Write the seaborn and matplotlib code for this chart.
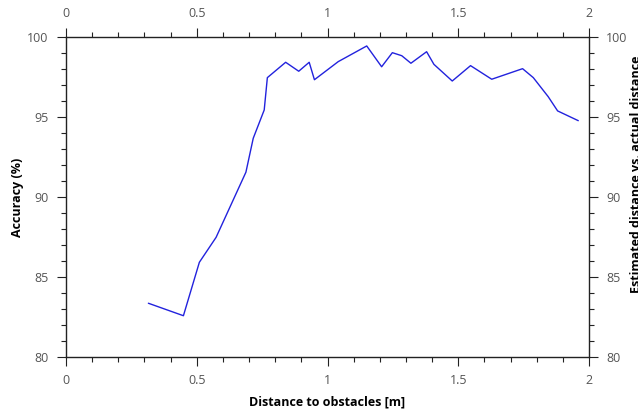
import matplotlib
matplotlib.use("Agg")
import matplotlib.pyplot as plt
import seaborn as sns
import pandas as pd
from matplotlib.ticker import MultipleLocator, FuncFormatter

distance = [0.315, 0.449, 0.51, 0.574, 0.688, 0.716, 0.758, 0.77, 0.84, 0.89,
            0.93, 0.95, 1.041, 1.15, 1.207, 1.248, 1.284, 1.319, 1.379, 1.407,
            1.477, 1.547, 1.628, 1.746, 1.787, 1.844, 1.88, 1.959]
accuracy = [83.36, 82.58, 85.92, 87.48, 91.55, 93.67, 95.44, 97.46, 98.42, 97.86,
            98.42, 97.33, 98.46, 99.44, 98.14, 99.02, 98.83, 98.36, 99.08, 98.29,
            97.25, 98.21, 97.36, 98.02, 97.46, 96.27, 95.38, 94.77]

xlabel = "Distance to obstacles [m]"
ylabel = "Accuracy (%)"
ylabel_right = "Estimated distance vs. actual distance"

df = pd.DataFrame({"d": distance, "a": accuracy})

sns.set_style("white")
plt.rcParams['font.family'] = ['Open Sans', 'DejaVu Sans']

fig = plt.figure(figsize=(6.38, 4.15), dpi=100)
ax = fig.add_axes([66/638, 1-357/415, (589-66)/638, (357-37)/415])

sns.lineplot(data=df, x="d", y="a", ax=ax, color="#2222dd", linewidth=1.0,
             sort=False, estimator=None)

ax.set_xlim(0, 2)
ax.set_ylim(80, 100)
ax.xaxis.set_major_locator(MultipleLocator(0.5))
ax.xaxis.set_minor_locator(MultipleLocator(0.1))
ax.yaxis.set_major_locator(MultipleLocator(5))
ax.yaxis.set_minor_locator(MultipleLocator(1))
fmt = FuncFormatter(lambda v, p: "%g" % v)
ax.xaxis.set_major_formatter(fmt)
ax.yaxis.set_major_formatter(fmt)

for s in ax.spines.values():
    s.set_visible(True)
    s.set_color("#222222")
    s.set_linewidth(1.0)

ax.tick_params(which="both", direction="out", top=True, right=True,
               bottom=True, left=True,
               labeltop=True, labelright=True, labelbottom=True, labelleft=True,
               colors="#222222", labelcolor="#555555", labelsize=9, width=0.8)
ax.tick_params(which="major", length=6.5, pad=6)
ax.tick_params(which="minor", length=3.6)

ax.set_xlabel(xlabel, fontsize=9, fontweight="bold", color="black", labelpad=6)
ax.set_ylabel(ylabel, fontsize=9, fontweight="bold", color="black")
ax.yaxis.set_label_coords(-0.080, 0.5)

fig.text(637/638, 1-174/415, ylabel_right, rotation=90, fontsize=9,
         fontweight="bold", color="black", ha="center", va="center")

fig.savefig("out.png", dpi=100)
